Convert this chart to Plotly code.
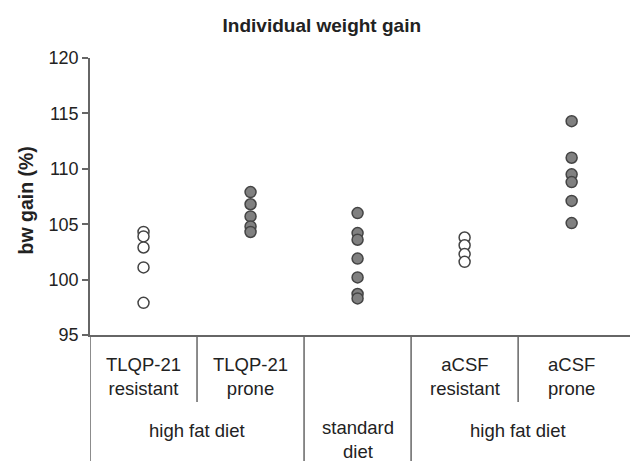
import plotly.graph_objects as go

categories = ["TLQP-21<br>resistant", "TLQP-21<br>prone", "", "aCSF<br>resistant", "aCSF<br>prone"]
tlqp_resistant = [104.3, 103.9, 102.9, 101.1, 97.9]
tlqp_prone = [107.9, 106.8, 105.7, 104.8, 104.3]
standard_diet = [106.0, 104.2, 103.6, 101.9, 100.2, 98.7, 98.3]
acsf_resistant = [103.8, 103.1, 102.3, 101.6]
acsf_prone = [114.3, 111.0, 109.5, 108.8, 107.1, 105.1]
series = [tlqp_resistant, tlqp_prone, standard_diet, acsf_resistant, acsf_prone]
filled = [False, True, True, False, True]
group_labels = ["high fat diet", "standard<br>diet", "high fat diet"]
group_pos = [0.5, 2, 3.5]
y_ticks = [95, 100, 105, 110, 115, 120]

FONT = "Liberation Sans, Arial, sans-serif"
TXT = "#222222"
LINE = "#666666"

fig = go.Figure()
for i, vals in enumerate(series):
    fig.add_trace(go.Scatter(
        x=[i] * len(vals), y=vals, mode="markers",
        marker=dict(size=11, color="#808080" if filled[i] else "white",
                    line=dict(color="#444444", width=1.5)),
        showlegend=False, cliponaxis=False))

ann = []
for i, c in enumerate(categories):
    if c:
        ann.append(dict(x=i, y=-0.151, xref="x", yref="paper", text=c, showarrow=False,
                        yanchor="middle", font=dict(size=18.5, color=TXT, family=FONT)))
for p, g in zip(group_pos, group_labels):
    ann.append(dict(x=p, y=-0.343 if "standard" not in g else -0.376, xref="x", yref="paper",
                    text=g, showarrow=False, yanchor="middle",
                    font=dict(size=18.5, color=TXT, family=FONT)))
ann.append(dict(x=-0.116, y=0.487, xref="paper", yref="paper", text="<b>bw gain (%)</b>",
                textangle=-90, showarrow=False, xanchor="center", yanchor="middle",
                font=dict(size=19.5, color=TXT, family=FONT)))

shapes = []
for xs, yb in [(-0.5, -0.47), (0.5, -0.242), (1.5, -0.47), (2.5, -0.47), (3.5, -0.242)]:
    shapes.append(dict(type="line", xref="x", yref="paper", x0=xs, x1=xs, y0=0, y1=yb,
                       line=dict(color=LINE, width=1.5)))

fig.update_layout(
    width=630, height=453,
    margin=dict(l=82, r=0, t=50, b=126),
    paper_bgcolor="white", plot_bgcolor="white",
    title=dict(text="<b>Individual weight gain</b>", x=0.423, xref="paper", xanchor="center",
               y=1 - 17 / 453, yref="container", yanchor="middle",
               font=dict(size=19, color=TXT, family=FONT)),
    xaxis=dict(range=[-0.5, 4.62], showticklabels=False, ticks="", showgrid=False,
               zeroline=False, showline=True, linecolor=LINE, linewidth=1.5),
    yaxis=dict(range=[95, 120], tickvals=y_ticks, ticks="outside", ticklen=6, tickcolor=LINE,
               tickwidth=1.5, showgrid=False, zeroline=False, showline=True, linecolor=LINE,
               linewidth=1.5, tickfont=dict(size=18, color=TXT, family=FONT)),
    annotations=ann, shapes=shapes,
)
fig.write_html("out.html")
